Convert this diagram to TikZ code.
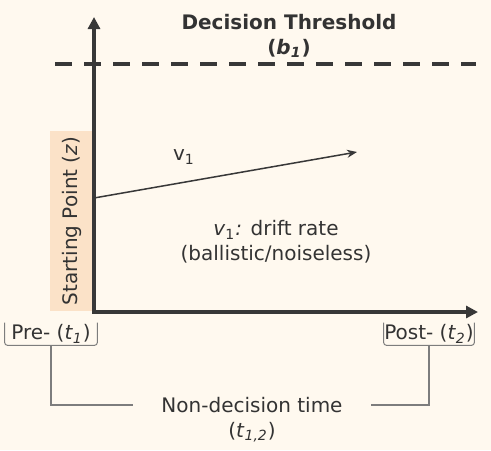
\documentclass[tikz,border=0pt]{standalone}
\usepackage{fontspec}
\setmainfont{DejaVu Sans}
\usetikzlibrary{arrows.meta, positioning}
\definecolor{paper}{RGB}{255, 249, 239}
\definecolor{axisgray}{RGB}{56, 56, 56}
\definecolor{peach}{RGB}{251, 226, 200}
\definecolor{linegray}{RGB}{125, 125, 125}
\definecolor{inkgray}{RGB}{51, 51, 51}

\begin{document}
\begin{tikzpicture}[
    x=0.5pt, y=-0.5pt,
    font=\fontsize{10}{12.5}\selectfont, text=inkgray,
    axis/.style={line width=2pt, draw=axisgray, line join=miter,
                 {Triangle[length=6pt, width=6pt]}-{Triangle[length=6pt, width=6pt]}},
    threshold/.style={line width=1.7pt, draw=axisgray, dash pattern=on 8.5pt off 6pt},
    drift/.style={-{Stealth[length=5pt, width=4pt]}, line width=0.75pt, draw=axisgray},
    zbox/.style={fill=peach, rotate=90, minimum width=90pt, minimum height=22pt, inner sep=0pt},
    tbox/.style={minimum height=11pt, inner sep=0pt},
    bracket/.style={draw=linegray, line width=0.5pt, rounded corners=1.5pt},
    link/.style={draw=linegray, line width=0.6pt},
  ]
    \useasboundingbox[fill=paper] (0,0) rectangle (491,450);

    %% Starting point band, behind the axes
    \node[zbox] (start) at (72, 221) {Starting Point (\textit{z})};

    %% Axes and threshold
    \coordinate (origin) at (94, 312);
    \coordinate (ytip)   at (94, 17);
    \coordinate (xtip)   at (478, 312);
    \draw[axis] (ytip) -- (origin) -- (xtip);
    \draw[threshold] (55, 64) -- (476, 64);

    \node[align=center, font=\fontsize{10}{12.5}\selectfont\bfseries] (thr) at (289, 36)
      {Decision Threshold\\(\textit{b}\textsubscript{\textit{1}})};

    %% Drift
    \coordinate (z0) at (94, 198);
    \coordinate (z1) at (357, 152);
    \draw[drift] (z0) -- (z1);
    \node (vlabel) at (184, 157) {v\textsubscript{1}};
    \node[align=center] (vnote) at (276, 242)
      {\textit{v}\textsubscript{1}\textit{:} drift rate\\(ballistic/noiseless)};

    %% Non-decision times
    \node[tbox, minimum width=46pt] (pre)  at (51, 334)  {Pre- (\textit{t}\textsubscript{\textit{1}})};
    \node[tbox, minimum width=45pt] (post) at (429, 334) {Post- (\textit{t}\textsubscript{\textit{2}})};
    \draw[bracket] (pre.north west) -- (pre.south west) -- (pre.south east) -- (pre.north east);
    \draw[bracket] (post.north west) -- (post.south west) -- (post.south east) -- (post.north east);

    \node[inner xsep=14pt] (ndt) at (252, 405) {Non-decision time};
    \node (ndtsym) at (252, 432) {(\textit{t}\textsubscript{\textit{1,2}})};
    \draw[link] (pre.south) |- (ndt.west);
    \draw[link] (post.south) |- (ndt.east);
  \end{tikzpicture}
\end{document}
